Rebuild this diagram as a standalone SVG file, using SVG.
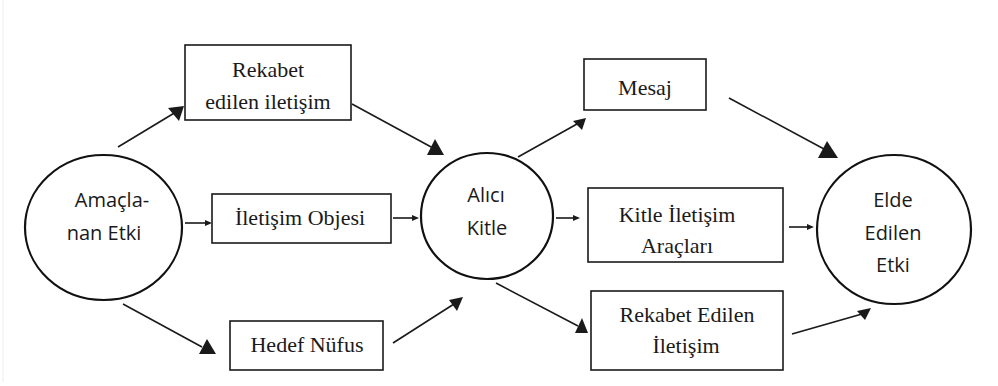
<svg xmlns="http://www.w3.org/2000/svg" width="998" height="386" viewBox="0 0 998 386">
<style>
.box{fill:#fff;stroke:#1a1a1a;stroke-width:1.6}
.circ{fill:#fff;stroke:#111;stroke-width:2.2}
.serif{font-size:22px;fill:#1a1a1a;text-anchor:middle}
.sans{font-size:20px;fill:#1a1a1a;text-anchor:middle}
.ln{stroke:#1a1a1a;stroke-width:1.6;fill:none}
.hd{fill:#1a1a1a;stroke:none}
</style>
<rect x="0" y="0" width="998" height="386" fill="#fff"/>
<line x1="3" y1="0" x2="3" y2="382" stroke="#eeeeee" stroke-width="1"/>
<g id="connectors">
<line class="ln" x1="118" y1="147" x2="176" y2="112"/>
<polygon class="hd" points="168,108 184,106 179,121"/>
<line class="ln" x1="352" y1="104" x2="433" y2="148"/>
<polygon class="hd" points="435,139 427,155 444,155"/>
<line class="ln" x1="185" y1="223" x2="206" y2="223"/>
<polygon class="hd" points="205,220 212,223 205,226"/>
<line class="ln" x1="393" y1="218" x2="413" y2="218"/>
<polygon class="hd" points="412,215 419,218 412,221"/>
<line class="ln" x1="123" y1="304" x2="202" y2="347"/>
<polygon class="hd" points="207,339 199,354 216,354"/>
<line class="ln" x1="393" y1="343" x2="454" y2="304"/>
<polygon class="hd" points="449,300 463,297 457,311"/>
<line class="ln" x1="518" y1="157" x2="577" y2="124"/>
<polygon class="hd" points="573,121 586,118 582,130"/>
<line class="ln" x1="556" y1="218" x2="574" y2="218"/>
<polygon class="hd" points="573,215 580,218 573,221"/>
<line class="ln" x1="496" y1="283" x2="578" y2="326"/>
<polygon class="hd" points="582,318 575,333 588,333"/>
<line class="ln" x1="729" y1="98" x2="824" y2="149"/>
<polygon class="hd" points="827,141 818,158 838,158"/>
<line class="ln" x1="789" y1="227" x2="808" y2="227"/>
<polygon class="hd" points="807,224 814,227 807,230"/>
<line class="ln" x1="792" y1="334" x2="862" y2="314"/>
<polygon class="hd" points="857,311 871,308 865,320"/>
</g>
<g id="amaclanan-etki" font-family="Open Sans, Noto Sans, sans-serif">
<ellipse class="circ" cx="103.5" cy="227.5" rx="78.5" ry="72.5"/>
<text class="sans" x="112" y="207">Amaçla-</text>
<text class="sans" x="104" y="240">nan Etki</text>
</g>
<g id="rekabet-edilen-iletisim-1" font-family="Liberation Serif, serif">
<rect class="box" x="185" y="45" width="166" height="75"/>
<text class="serif" x="268" y="77">Rekabet</text>
<text class="serif" x="268" y="109">edilen iletişim</text>
</g>
<g id="iletisim-objesi" font-family="Liberation Serif, serif">
<rect class="box" x="212" y="194" width="179" height="49"/>
<text class="serif" x="300" y="225">İletişim Objesi</text>
</g>
<g id="hedef-nufus" font-family="Liberation Serif, serif">
<rect class="box" x="230" y="321" width="153" height="49"/>
<text class="serif" x="307" y="352">Hedef Nüfus</text>
</g>
<g id="alici-kitle" font-family="Open Sans, Noto Sans, sans-serif">
<ellipse class="circ" cx="487" cy="216" rx="66" ry="63"/>
<text class="sans" x="486" y="202">Alıcı</text>
<text class="sans" x="487" y="235">Kitle</text>
</g>
<g id="mesaj" font-family="Liberation Serif, serif">
<rect class="box" x="584" y="59" width="122" height="51"/>
<text class="serif" x="645" y="95">Mesaj</text>
</g>
<g id="kitle-iletisim-araclari" font-family="Liberation Serif, serif">
<rect class="box" x="588" y="188" width="195" height="74"/>
<text class="serif" x="677" y="222">Kitle İletişim</text>
<text class="serif" x="677" y="253">Araçları</text>
</g>
<g id="rekabet-edilen-iletisim-2" font-family="Liberation Serif, serif">
<rect class="box" x="591" y="291" width="192" height="79"/>
<text class="serif" x="687" y="322">Rekabet Edilen</text>
<text class="serif" x="686" y="353">İletişim</text>
</g>
<g id="elde-edilen-etki" font-family="Open Sans, Noto Sans, sans-serif">
<ellipse class="circ" cx="894" cy="229.5" rx="77" ry="74.5"/>
<text class="sans" x="893" y="207">Elde</text>
<text class="sans" x="893" y="240">Edilen</text>
<text class="sans" x="893" y="272">Etki</text>
</g>
</svg>
